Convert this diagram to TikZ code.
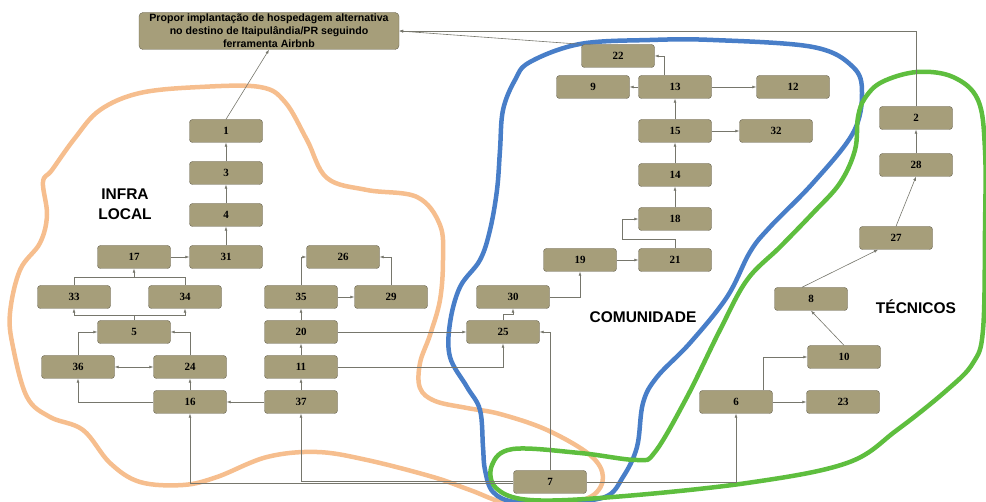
\documentclass[tikz,border=0pt]{standalone}
\usepackage{fontspec}
\setmainfont{Liberation Serif}
\setsansfont{Liberation Sans}
\usepackage{xcolor}
\usetikzlibrary{arrows.meta,positioning}
\definecolor{boxfill}{RGB}{166,158,122}
\definecolor{boxline}{RGB}{105,100,82}
\definecolor{wirecol}{RGB}{118,118,108}
\definecolor{infracol}{RGB}{246,190,142}
\definecolor{comcol}{RGB}{72,126,200}
\definecolor{teccol}{RGB}{94,190,62}
\begin{document}
\begin{tikzpicture}[
    x=1pt, y=-1pt,
    block/.style={draw=boxline, fill=boxfill, rounded corners=3pt, minimum width=73pt, minimum height=23pt, inner sep=0pt, font=\fontsize{11}{12}\selectfont\bfseries},
    goal/.style={draw=boxline, fill=boxfill, rounded corners=4pt, minimum width=260pt, minimum height=37pt, inner sep=0pt, align=center, font=\sffamily\bfseries\fontsize{10.6}{13}\selectfont},
    tag/.style={align=center, font=\sffamily\bfseries\fontsize{15.5}{20}\selectfont},
    wire/.style={draw=wirecol, line width=0.6pt},
    arr/.style={wire, -{Latex[length=4pt,width=3pt]}},
    arrs/.style={wire, {Latex[length=4pt,width=3pt]}-{Latex[length=4pt,width=3pt]}},
    grp/.style={line width=4.5pt, line join=round}
]
\useasboundingbox (0,0) rectangle (986,502);
\begin{scope}
\clip (0,0) rectangle (986,502);
\draw[grp, infracol] plot[smooth cycle, tension=0.6] coordinates {
  (100,110) (140,93) (200,87) (260,87) (285,102) (307,140) (327,178) (367,190)
  (417,197) (440,225) (443,260) (440,300) (430,335) (420,363) (420,388) (435,401)
  (467,408) (500,414) (547,430) (590,455) (603,477) (592,496) (560,504) (510,504)
  (470,490) (433,477) (367,460) (317,452) (267,457) (217,477) (183,485) (140,482)
  (110,463) (83,430) (50,417) (27,397) (13,347) (10,313) (20,270) (40,243)
  (47,215) (43,182) (52,170) (75,138)};
\draw[grp, comcol] plot[smooth cycle, tension=0.6] coordinates {
  (530,62) (580,44) (650,40) (713,40) (813,47) (853,67) (862,93) (853,133)
  (813,183) (770,227) (750,252) (727,297) (690,343) (657,377) (643,403) (637,447)
  (623,477) (605,497) (560,502) (515,502) (493,492) (485,470) (483,447) (480,410)
  (467,387) (450,357) (450,323) (460,287) (480,260) (490,230) (497,190) (500,150)
  (503,110) (515,80)};
\draw[grp, teccol] plot[smooth cycle, tension=0.6] coordinates {
  (917,72) (953,77) (978,100) (985,150) (985,230) (983,330) (973,363) (947,390)
  (897,430) (847,463) (747,483) (613,497) (530,500) (496,488) (492,465) (513,449)
  (580,453) (637,460) (655,452) (687,397) (720,330) (747,280) (780,247) (813,213)
  (840,183) (855,150) (858,117) (865,98) (882,82)};
\end{scope}
\node[goal] (top) at (269,31) {Propor implantação de hospedagem alternativa\\no destino de Itaipulândia/PR seguindo\\ferramenta Airbnb};
\node[tag] (infra) at (125,204) {INFRA\\LOCAL};
\node[tag] (com) at (643,317) {COMUNIDADE};
\node[tag] (tec) at (916,307) {TÉCNICOS};
\node[block] (n1) at (226,131) {1};
\node[block] (n3) at (226,173) {3};
\node[block] (n4) at (226,215) {4};
\node[block] (n31) at (226,257) {31};
\node[block] (n17) at (134,257) {17};
\node[block] (n26) at (343,257) {26};
\node[block] (n33) at (74,297) {33};
\node[block] (n34) at (185,297) {34};
\node[block] (n35) at (301,297) {35};
\node[block] (n29) at (391,297) {29};
\node[block] (n5) at (134,332) {5};
\node[block] (n20) at (301,332) {20};
\node[block] (n36) at (78,367) {36};
\node[block] (n24) at (190,367) {24};
\node[block] (n11) at (301,367) {11};
\node[block] (n16) at (190,402) {16};
\node[block] (n37) at (301,402) {37};
\node[block] (n22) at (618,56) {22};
\node[block] (n9) at (593,87) {9};
\node[block] (n13) at (675,87) {13};
\node[block] (n12) at (793,87) {12};
\node[block] (n15) at (675,131) {15};
\node[block] (n32) at (776,131) {32};
\node[block] (n14) at (675,175) {14};
\node[block] (n18) at (675,219) {18};
\node[block] (n19) at (580,260) {19};
\node[block] (n21) at (675,260) {21};
\node[block] (n30) at (513,297) {30};
\node[block] (n25) at (503,332) {25};
\node[block] (n7) at (550,482) {7};
\node[block] (n2) at (916,118) {2};
\node[block] (n28) at (916,165) {28};
\node[block] (n27) at (896,238) {27};
\node[block] (n8) at (811,299) {8};
\node[block] (n10) at (844,357) {10};
\node[block] (n6) at (736,402) {6};
\node[block] (n23) at (843,402) {23};
\draw[arr] (n1.north) -- (top.south);
\draw[arr] (n3) -- (n1);
\draw[arr] (n4) -- (n3);
\draw[arr] (n31) -- (n4);
\draw[arr] (n17) -- (n31);
\draw[wire] (n33.north) |- (n34.north |- 0,277) -- (n34.north);
\draw[arr] (n17.south |- 0,277) -- (n17.south);
\draw[wire] (n5.north) -- (n5.north |- 0,315);
\draw[arr] (n5.north |- 0,315) -| (n33.south);
\draw[arr] (n5.north |- 0,315) -| (n34.south);
\draw[arr] (n36.north) |- (n5.west);
\draw[arr] (n24.north) |- (n5.east);
\draw[arrs] (n36) -- (n24);
\draw[arr] (n16) -- (n24);
\draw[arr] (n16.west) -| (n36.south);
\draw[arr] (n37) -- (n16);
\draw[arr] (n37) -- (n11);
\draw[arr] (n11) -- (n20);
\draw[arr] (n20) -- (n35);
\draw[arr] (n35.north) |- (n26.west);
\draw[arr] (n35) -- (n29);
\draw[arr] (n29.north) |- (n26.east);
\draw[arr] (n20) -- (n25);
\draw[arr] (n11.east) -| (n25.south);
\draw[arr] (n25.north) -- ++(0,-6) -| (n30.south);
\draw[arr] (n30.east) -| (n19.south);
\draw[arr] (n19) -- (n21);
\draw[arr] (n21.north) |- (622,239) |- (n18.west);
\draw[arr] (n18) -- (n14);
\draw[arr] (n14) -- (n15);
\draw[arr] (n15) -- (n13);
\draw[arr] (n13) -- (n9);
\draw[arr] (n13) -- (n12);
\draw[arr] (n15) -- (n32);
\draw[arr] ([xshift=-11pt]n13.north) |- (n22.east);
\draw[arr] (n22.north west) -- (top.east);
\draw[arr] (n2.north) |- (top.east);
\draw[arr] (n28) -- (n2);
\draw[arr] (n27.north) -- (n28.south);
\draw[arr] ([xshift=-9pt]n8.north) -- ([xshift=-18pt]n27.south);
\draw[arr] (n10.north) -- (n8.south);
\draw[arr] ([xshift=27pt]n6.north) |- (n10.west);
\draw[arr] (n6) -- (n23);
\draw[arr] (n7.east) -| (n6.south);
\draw[arr] (n7.north) |- (n25.east);
\draw[arr] ([yshift=1pt]n7.west) -| (n37.south);
\draw[arr] ([yshift=-1pt]n7.west) -| (n16.south);
\end{tikzpicture}
\end{document}
